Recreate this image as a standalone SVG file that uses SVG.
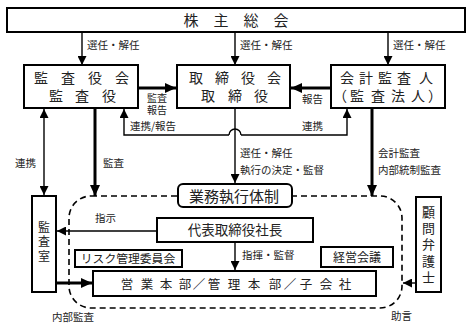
<svg xmlns="http://www.w3.org/2000/svg" width="469" height="328" viewBox="0 0 469 328">
<style>
text{font-family:"Noto Sans CJK JP","Noto Sans CJK SC",sans-serif;fill:#222}
.box{fill:#fff;stroke:#000;stroke-width:2}
.ln{fill:none;stroke:#000;stroke-width:1.4}
.th{fill:none;stroke:#000;stroke-width:3}
.lb{font-size:10.5px}
.bt{font-size:14px;text-anchor:middle}
.vt{writing-mode:vertical-rl;text-anchor:start}
.dash{fill:none;stroke:#000;stroke-width:1.6;stroke-dasharray:6 4}
</style>
<defs>
<marker id="a" markerUnits="userSpaceOnUse" markerWidth="10" markerHeight="9" refX="9" refY="4.5" orient="auto-start-reverse"><path d="M0,0 L9,4.5 L0,9 z" fill="#000"/></marker>
<marker id="b" markerUnits="userSpaceOnUse" markerWidth="12" markerHeight="10" refX="11" refY="5" orient="auto"><path d="M0,0 L11,5 L0,10 z" fill="#000"/></marker>
</defs>
<rect class="dash" x="69" y="196" width="333" height="112" rx="22"/>
<g id="connectors">
<path class="ln" d="M82,32 V65" marker-end="url(#a)"/>
<path class="ln" d="M235,32 V65" marker-end="url(#a)"/>
<path class="ln" d="M388,32 V65" marker-end="url(#a)"/>
<path class="th" d="M138,88 H176" marker-end="url(#b)"/>
<path class="th" d="M331,88 H291" marker-end="url(#b)"/>
<path class="ln" d="M44,109 V195" marker-start="url(#a)" marker-end="url(#a)"/>
<path class="th" d="M95,108 V196" marker-end="url(#b)"/>
<path class="ln" d="M229,135 H124 V109" marker-end="url(#a)"/>
<path class="ln" d="M229,135 A6,6 0 0 1 241,135"/>
<path class="ln" d="M241,135 H347 V109" marker-end="url(#a)"/>
<path class="ln" d="M235,108 V183" marker-end="url(#a)"/>
<path class="th" d="M372,108 V196" marker-end="url(#b)"/>
<path class="ln" d="M157,231 H57" marker-end="url(#a)"/>
<path class="ln" d="M235,242 V270" marker-end="url(#a)"/>
<path class="th" d="M56,283 H92" marker-end="url(#b)"/>
<path class="ln" d="M416,283 H403" marker-end="url(#a)"/>
</g>
<g id="labels">
<text class="lb" x="87" y="49">選任・解任</text>
<text class="lb" x="240" y="49">選任・解任</text>
<text class="lb" x="393" y="49">選任・解任</text>
<text class="lb" style="font-size:10px"><tspan x="147" y="101.5">監査</tspan><tspan x="147" y="114">報告</tspan></text>
<text class="lb" x="302" y="103">報告</text>
<text class="lb" x="130" y="130">連携/報告</text>
<text class="lb" x="302" y="130">連携</text>
<text class="lb" x="15" y="167">連携</text>
<text class="lb" x="103" y="167">監査</text>
<text class="lb" x="240" y="157">選任・解任</text>
<text class="lb" x="240" y="174">執行の決定・監督</text>
<text class="lb" x="378" y="157">会計監査</text>
<text class="lb" x="378" y="174">内部統制監査</text>
<text class="lb" x="95" y="222">指示</text>
<text class="lb" x="242" y="259">指揮・監督</text>
<text class="lb" x="52" y="321">内部監査</text>
<text class="lb" x="391" y="320">助言</text>
</g>
<g id="n-shareholders">
<rect class="box" x="7" y="8" width="458" height="24"/>
<text class="bt" x="191 221 251 281" y="25.5" style="font-size:15px">株主総会</text>
</g>
<g id="n-auditors">
<rect class="box" x="24" y="65" width="114" height="43"/>
<text class="bt" x="41 68 95 122" y="83">監査役会</text>
<text class="bt" x="56 82 109" y="101">監査役</text>
</g>
<g id="n-board">
<rect class="box" x="177" y="65" width="113" height="43"/>
<text class="bt" x="196 222 248 274" y="83">取締役会</text>
<text class="bt" x="208 235 261" y="101">取締役</text>
</g>
<g id="n-accounting">
<rect class="box" x="331" y="65" width="114" height="43"/>
<text class="bt" x="347 366 385 404 426" y="83">会計監査人</text>
<text class="bt" x="340 357 378 398 418 435" y="101">（監査法人）</text>
</g>
<g id="n-exec">
<rect class="box" x="178" y="184" width="114" height="23" rx="5"/>
<text class="bt" x="234" y="201.5" style="font-size:15px">業務執行体制</text>
</g>
<g id="n-president">
<rect class="box" x="157" y="218" width="156" height="24"/>
<text class="bt" x="235" y="235" style="font-size:13.5px">代表取締役社長</text>
</g>
<g id="n-risk">
<rect class="box" x="75" y="250" width="107" height="17"/>
<text class="bt" x="128" y="262.5" style="font-size:11.8px">リスク管理委員会</text>
</g>
<g id="n-mgmt">
<rect class="box" x="321" y="247" width="72" height="20"/>
<text class="bt" x="357" y="261.5" style="font-size:12px">経営会議</text>
</g>
<g id="n-divisions">
<rect class="box" x="93" y="271" width="283" height="25"/>
<text class="bt" x="127 147 166 185 199 214 234 254 275 290 306 326 345" y="288.5" style="font-size:12.5px">営業本部／管理本部／子会社</text>
</g>
<g id="n-auditroom">
<rect class="box" x="32" y="196" width="24" height="96"/>
<text class="vt" x="44" y="221" style="font-size:12px;letter-spacing:2.5px">監査室</text>
</g>
<g id="n-lawyer">
<rect class="box" x="416" y="197" width="25" height="95"/>
<text class="vt" x="428.5" y="205.5" style="font-size:13px;letter-spacing:3.2px">顧問弁護士</text>
</g>
</svg>
